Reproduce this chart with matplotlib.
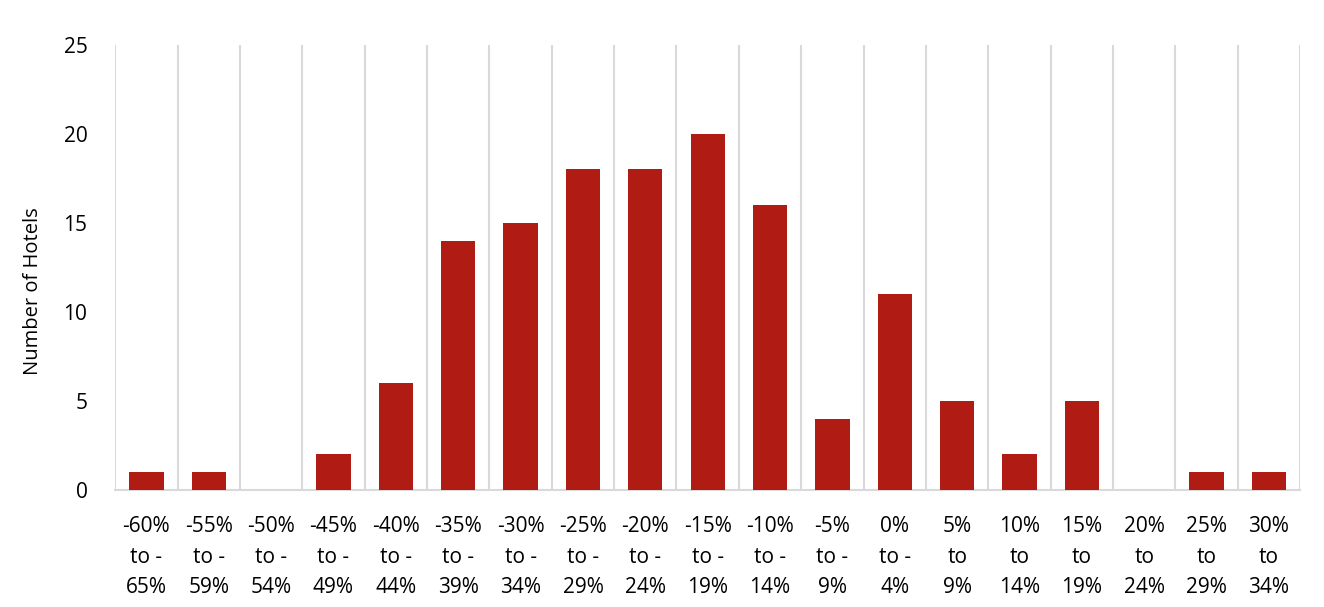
import numpy as np
import matplotlib.pyplot as plt

plt.rcParams['font.family'] = ['Open Sans', 'DejaVu Sans']

# data
labels = ['-60%\nto -\n65%', '-55%\nto -\n59%', '-50%\nto -\n54%', '-45%\nto -\n49%',
          '-40%\nto -\n44%', '-35%\nto -\n39%', '-30%\nto -\n34%', '-25%\nto -\n29%',
          '-20%\nto -\n24%', '-15%\nto -\n19%', '-10%\nto -\n14%', '-5%\nto -\n9%',
          '0%\nto -\n4%', '5%\nto\n9%', '10%\nto\n14%', '15%\nto\n19%',
          '20%\nto\n24%', '25%\nto\n29%', '30%\nto\n34%']
hotels = [1, 1, 0, 2, 6, 14, 15, 18, 18, 20, 16, 4, 11, 5, 2, 5, 0, 1, 1]

fig = plt.figure(figsize=(13.24, 6.07), dpi=100)
ax = fig.add_axes([0.087, 0.193, 0.895, 0.733])

x = np.arange(len(labels))
ax.bar(x, hotels, width=0.55, color='#B01C14', zorder=3)

ax.set_xlim(-0.5, len(labels) - 0.5)
ax.set_ylim(0, 25)
ax.set_yticks(range(0, 26, 5))
ax.set_xticks(x)
ax.set_xticklabels(labels, linespacing=1.58)
ax.set_xticks(np.arange(-0.5, len(labels), 1), minor=True)
ax.grid(which='minor', axis='x', color='#D9D9D9', linewidth=1.5, zorder=0)
ax.tick_params(axis='both', which='both', length=0, labelsize=15, colors='black')
ax.tick_params(axis='x', pad=19)
ax.tick_params(axis='y', pad=20)

for s in ['top', 'right', 'left']:
    ax.spines[s].set_visible(False)
ax.spines['bottom'].set_color('#D9D9D9')
ax.spines['bottom'].set_linewidth(1.5)

ax.set_ylabel('Number of Hotels', fontsize=14.5)
ax.yaxis.set_label_coords(-0.061, 0.447)

fig.savefig('out.png', dpi=100)
